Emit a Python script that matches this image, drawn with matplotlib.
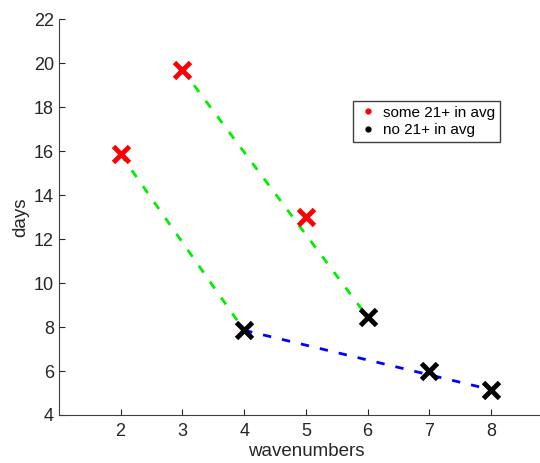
import matplotlib.pyplot as plt
from matplotlib.lines import Line2D

plt.rcParams['font.family'] = ['Liberation Sans', 'DejaVu Sans']

# points with some 21+ in the average
redX = [2, 3, 5]
redY = [15.85, 19.7, 13.0]
# points without
blackX = [4, 6, 7, 8]
blackY = [7.85, 8.45, 6.0, 5.15]

# dashed guide lines
green1X = [2, 4]
green1Y = [15.85, 7.85]
green2X = [3, 6]
green2Y = [19.7, 8.45]
blueX = [4, 8]
blueY = [7.85, 5.15]

xticks = [2, 3, 4, 5, 6, 7, 8]
yticks = [4, 6, 8, 10, 12, 14, 16, 18, 20, 22]

fig = plt.figure(figsize=(5.4, 4.63), dpi=100)
ax = fig.add_axes([0.109, 0.1037, 0.915, 0.855])

ax.plot(green1X, green1Y, color='#00ee00', lw=2, dashes=(3, 4), zorder=2)
ax.plot(green2X, green2Y, color='#00ee00', lw=2, dashes=(3, 4), zorder=2)
ax.plot(blueX, blueY, color='#0000ff', lw=2, dashes=(3, 4), zorder=2)

ax.plot(redX, redY, 'x', color='red', ms=11, mew=3.5, zorder=3)
ax.plot(blackX, blackY, 'x', color='black', ms=11, mew=3.5, zorder=3)

ax.set_xlim(1, 9)
ax.set_ylim(4, 22)
ax.set_xticks(xticks)
ax.set_yticks(yticks)
ax.tick_params(direction='in', labelsize=13, colors='#262626', length=4)
ax.tick_params(axis='x', pad=6)
for s in ['top', 'right']:
    ax.spines[s].set_visible(False)
for s in ['left', 'bottom']:
    ax.spines[s].set_color('#404040')

ax.set_xlabel('wavenumbers', fontsize=13.5, color='#262626', labelpad=2)
ax.set_ylabel('days', fontsize=13.5, color='#262626', labelpad=3)

handles = [Line2D([], [], ls='none', marker='o', ms=3.5, color='red'),
           Line2D([], [], ls='none', marker='o', ms=3.5, color='black')]
leg = ax.legend(handles, ['some 21+ in avg', 'no 21+ in avg'],
                loc='upper left', bbox_to_anchor=(0.595, 0.793), fontsize=11,
                fancybox=False, framealpha=1, edgecolor='#404040',
                handlelength=1.4, handletextpad=0.3, borderpad=0.3,
                labelspacing=0.25, borderaxespad=0)
leg.get_frame().set_linewidth(1)

fig.savefig('out.png', dpi=100)
